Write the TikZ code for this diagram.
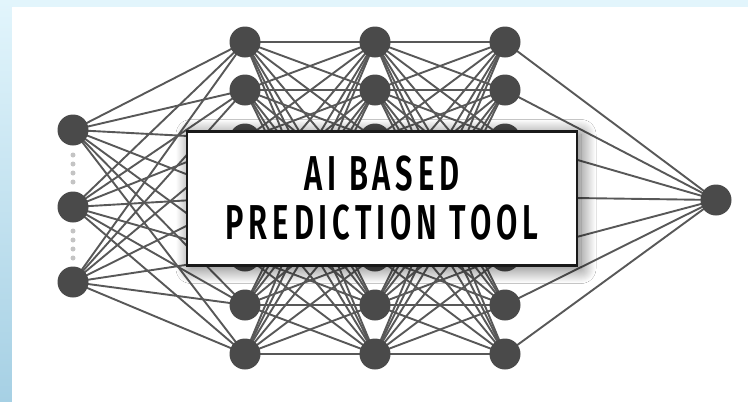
\documentclass[tikz,border=0pt]{standalone}
\usepackage{fontspec}
\newfontfamily\titlefont[FakeStretch=0.63,LetterSpace=10]{Fira Sans SemiBold}
\usetikzlibrary{shadows.blur}
\definecolor{skyback}{HTML}{E2F5FC}
\definecolor{skydeep}{HTML}{A6D0E4}
\definecolor{neuron}{HTML}{4A4A4A}
\definecolor{synapse}{HTML}{585858}
\definecolor{dotgray}{HTML}{C4C4C4}
\tikzset{
  neuronnode/.style={circle,fill=neuron,minimum size=31pt,inner sep=0pt},
  synapseline/.style={draw=synapse,line width=1.9pt},
  gapdot/.style={circle,fill=dotgray,minimum size=5pt,inner sep=0pt},
  titlebox/.style={draw=black!90,line width=2.2pt,fill=white,
    minimum width=390pt,minimum height=134pt,
    blur shadow={shadow xshift=4pt,shadow yshift=-3pt,shadow blur radius=15pt,
      shadow opacity=60,shadow blur steps=30},
    align=center,font=\titlefont\fontsize{49}{49}\selectfont}
}
\begin{document}
\begin{tikzpicture}[x=1pt,y=-1pt]
\useasboundingbox (0,0) rectangle (748,402);
% page background with the shaded left strip
\fill[skyback] (0,0) rectangle (748,402);
\shade[top color=skyback,bottom color=skydeep] (0,0) rectangle (12,402);
\fill[white] (12,7) rectangle (748,402);

% layer positions
\foreach \i/\y in {1/130,2/207,3/282}
  \coordinate (in\i) at (73,\y);
\foreach \i/\y in {1/42,2/90,3/139,4/197,5/256,6/305,7/354}{
  \coordinate (ha\i) at (245,\y);
  \coordinate (hb\i) at (375,\y);
  \coordinate (hc\i) at (505,\y);
}
\coordinate (out) at (716,200);

% connections
\foreach \i in {1,2,3}
  \foreach \j in {1,...,7}
    \draw[synapseline] (in\i) -- (ha\j);
\foreach \i in {1,...,7}
  \foreach \j in {1,...,7}{
    \draw[synapseline] (ha\i) -- (hb\j);
    \draw[synapseline] (hb\i) -- (hc\j);
  }
\foreach \i in {1,...,7}
  \draw[synapseline] (hc\i) -- (out);

% neurons
\foreach \i in {1,2,3}
  \node[neuronnode] (nin\i) at (in\i) {};
\foreach \i in {1,...,7}{
  \node[neuronnode] (nha\i) at (ha\i) {};
  \node[neuronnode] (nhb\i) at (hb\i) {};
  \node[neuronnode] (nhc\i) at (hc\i) {};
}
\node[neuronnode] (nout) at (out) {};

% dotted gaps between input neurons
\foreach \y in {155,164,173,182,231,240,249,258}
  \node[gapdot] at (73,\y) {};

% title panel
\node[titlebox] (title) at (382,198.5) {AI BASED\\PREDICTION TOOL};
\end{tikzpicture}
\end{document}
